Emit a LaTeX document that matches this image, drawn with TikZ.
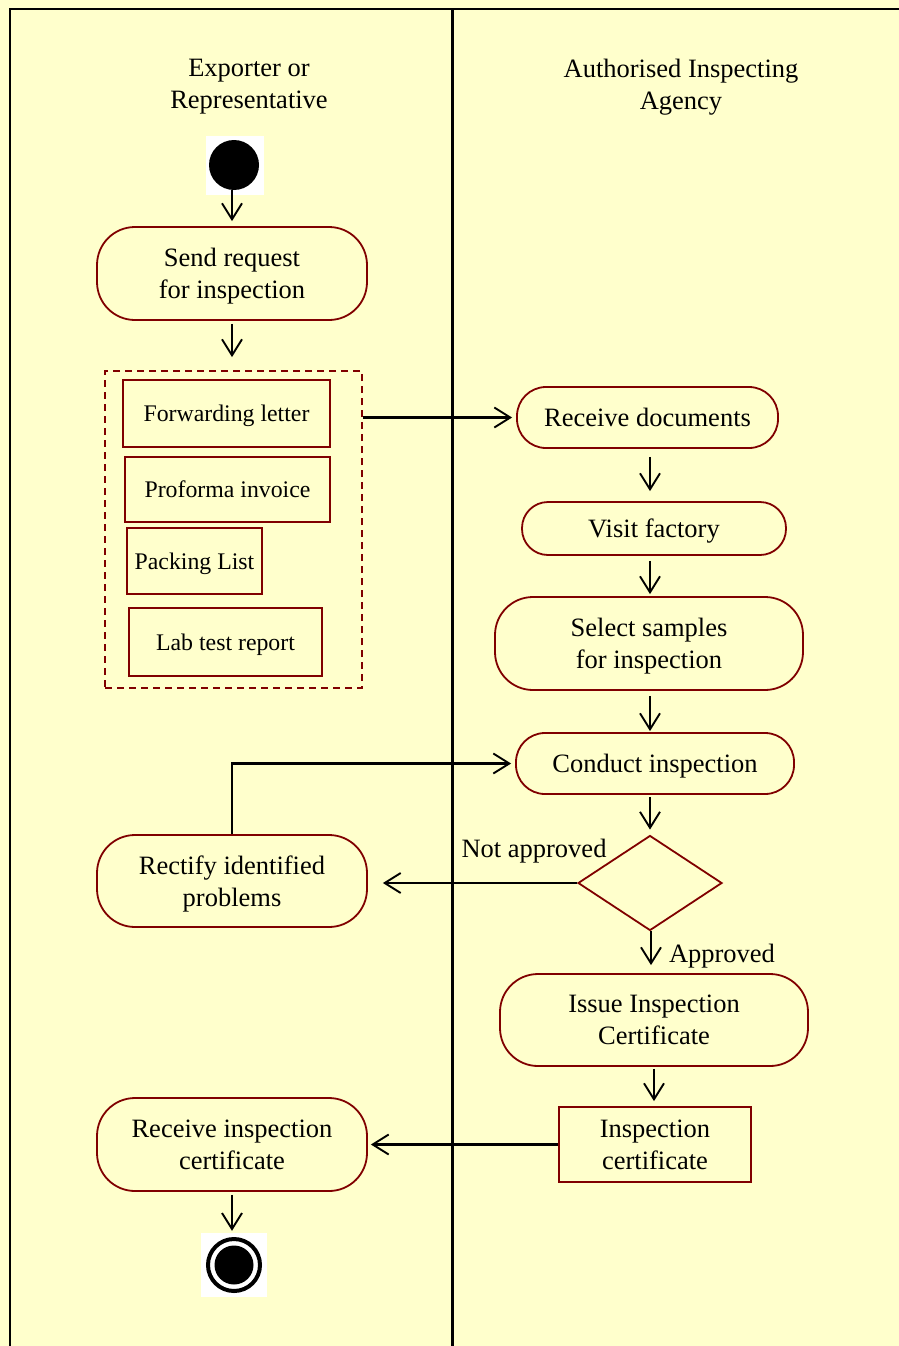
\documentclass[tikz,border=0pt]{standalone}
\usepackage{fontspec}
\setmainfont{Liberation Serif}
\usetikzlibrary{arrows.meta,shapes.geometric}
\definecolor{bg}{HTML}{FFFFCC}
\definecolor{mar}{HTML}{800000}
\newcommand{\bigtxt}{\fontsize{26.5pt}{32pt}\selectfont}
\newcommand{\doctxt}{\fontsize{23.8pt}{28pt}\selectfont}
\tikzset{
  act/.style={draw=mar, line width=1.8pt, fill=bg, align=center, inner sep=0pt, font=\bigtxt, text depth=0pt},
  docbx/.style={draw=mar, line width=1.8pt, fill=bg, align=center, inner sep=0pt, font=\doctxt, text depth=0pt},
  lbl/.style={inner sep=0pt, font=\bigtxt, align=center, text depth=0pt},
  flow/.style={line width=2.1pt, -{Straight Barb[length=16pt, width=20pt, line width=1.9pt]}},
  lane/.style={line width=2pt, black},
}
\begin{document}
\begin{tikzpicture}[x=1pt,y=-1pt]
\useasboundingbox (0,0) rectangle (899,1346);
\fill[bg] (0,0) rectangle (899,1346);
\draw[lane] (10,1346) -- (10,9) -- (899,9);
\draw[lane, line width=3pt] (452,9) -- (452,1346);

% lane titles
\node[lbl] (lane1) at (249,84) {Exporter or\\Representative};
\node[lbl] (lane2) at (681,84) {Authorised Inspecting\\Agency};

% start
\node[fill=white, minimum width=58pt, minimum height=59pt, inner sep=0pt] (startbg) at (235,165.5) {};
\node[circle, fill=black, minimum size=50pt, inner sep=0pt] (start) at (234,165) {};

% left lane
\node[act, minimum width=270pt, minimum height=93pt, rounded corners=38pt] (send) at (232,273.5) {Send request\\for inspection};

\node[draw=mar, dash pattern=on 7pt off 5pt, line width=1.8pt, minimum width=257pt, minimum height=317pt, inner sep=0pt] (docbox) at (233.5,529.5) {};
\node[docbx, minimum width=207pt, minimum height=67pt] (fwd) at (226.5,413.5) {Forwarding letter};
\node[docbx, minimum width=205pt, minimum height=65pt] (pro) at (227.5,489.5) {Proforma invoice};
\node[docbx, minimum width=135pt, minimum height=66pt] (pack) at (194.5,561) {Packing List};
\node[docbx, minimum width=193pt, minimum height=68pt] (lab) at (225.5,642) {Lab test report};

\node[act, minimum width=270pt, minimum height=92pt, rounded corners=38pt] (rect) at (232,881) {Rectify identified\\problems};
\node[act, minimum width=270pt, minimum height=93pt, rounded corners=38pt] (recvcert) at (232,1144.5) {Receive inspection\\certificate};

% end
\node[fill=white, minimum width=66pt, minimum height=64pt, inner sep=0pt] (finishbg) at (234,1265) {};
\node[circle, draw=black, line width=4pt, minimum size=52pt, inner sep=0pt] (finishring) at (234,1265) {};
\node[circle, fill=black, minimum size=39pt, inner sep=0pt] (finish) at (234,1265) {};

% right lane
\node[act, minimum width=261pt, minimum height=61pt, rounded corners=29pt] (recv) at (647.5,417.5) {Receive documents};
\node[act, minimum width=264pt, minimum height=53pt, rounded corners=26pt] (visit) at (654,528.5) {Visit factory};
\node[act, minimum width=308pt, minimum height=93pt, rounded corners=38pt] (select) at (649,643.5) {Select samples\\for inspection};
\node[act, minimum width=278pt, minimum height=61pt, rounded corners=29pt] (conduct) at (655,763.5) {Conduct inspection};
\node[diamond, draw=mar, line width=1.8pt, fill=bg, minimum width=144pt, minimum height=95pt, inner sep=0pt] (dia) at (650,883) {};
\node[act, minimum width=308pt, minimum height=92pt, rounded corners=38pt] (issue) at (654,1020) {Issue Inspection\\Certificate};
\node[act, minimum width=192pt, minimum height=75pt] (insp) at (655,1144.5) {Inspection\\certificate};

\node[lbl] (na) at (534,848) {Not approved};
\node[lbl] (ap) at (722,953.5) {Approved};

% connectors
\draw[flow, shorten >=5pt] (start.south -| send) -- (send.north);
\draw[flow, shorten <=3pt, shorten >=13pt] (send.south) -- (send.south |- docbox.north);
\draw[flow, shorten >=4pt] (docbox.east |- recv) -- (recv.west);
\draw[flow, shorten <=8pt, shorten >=10pt] (dia |- recv.south) -- (dia |- visit.north);
\draw[flow, shorten <=5pt, shorten >=2pt] (dia |- visit.south) -- (dia |- select.north);
\draw[flow, shorten <=5pt, shorten >=1pt] (dia |- select.south) -- (dia |- conduct.north);
\draw[flow, shorten <=2pt, shorten >=5pt] (dia |- conduct.south) -- (dia.north);
\draw[flow, shorten >=8pt] ([xshift=1pt]dia.south) -- ([xshift=1pt]dia.south |- issue.north);
\draw[flow, shorten >=15pt] (dia.west) -- (dia.west -| rect.east);
\draw[flow, shorten >=4pt] (rect.north) |- (conduct.west);
\draw[flow, shorten <=2pt, shorten >=5pt] (issue.south) -- (issue.south |- insp.north);
\draw[flow, shorten >=3pt] (insp.west) -- (insp.west -| recvcert.east);
\draw[flow, shorten <=3pt, shorten >=2pt] (recvcert.south) -- (recvcert.south |- finishbg.north);
\end{tikzpicture}
\end{document}
